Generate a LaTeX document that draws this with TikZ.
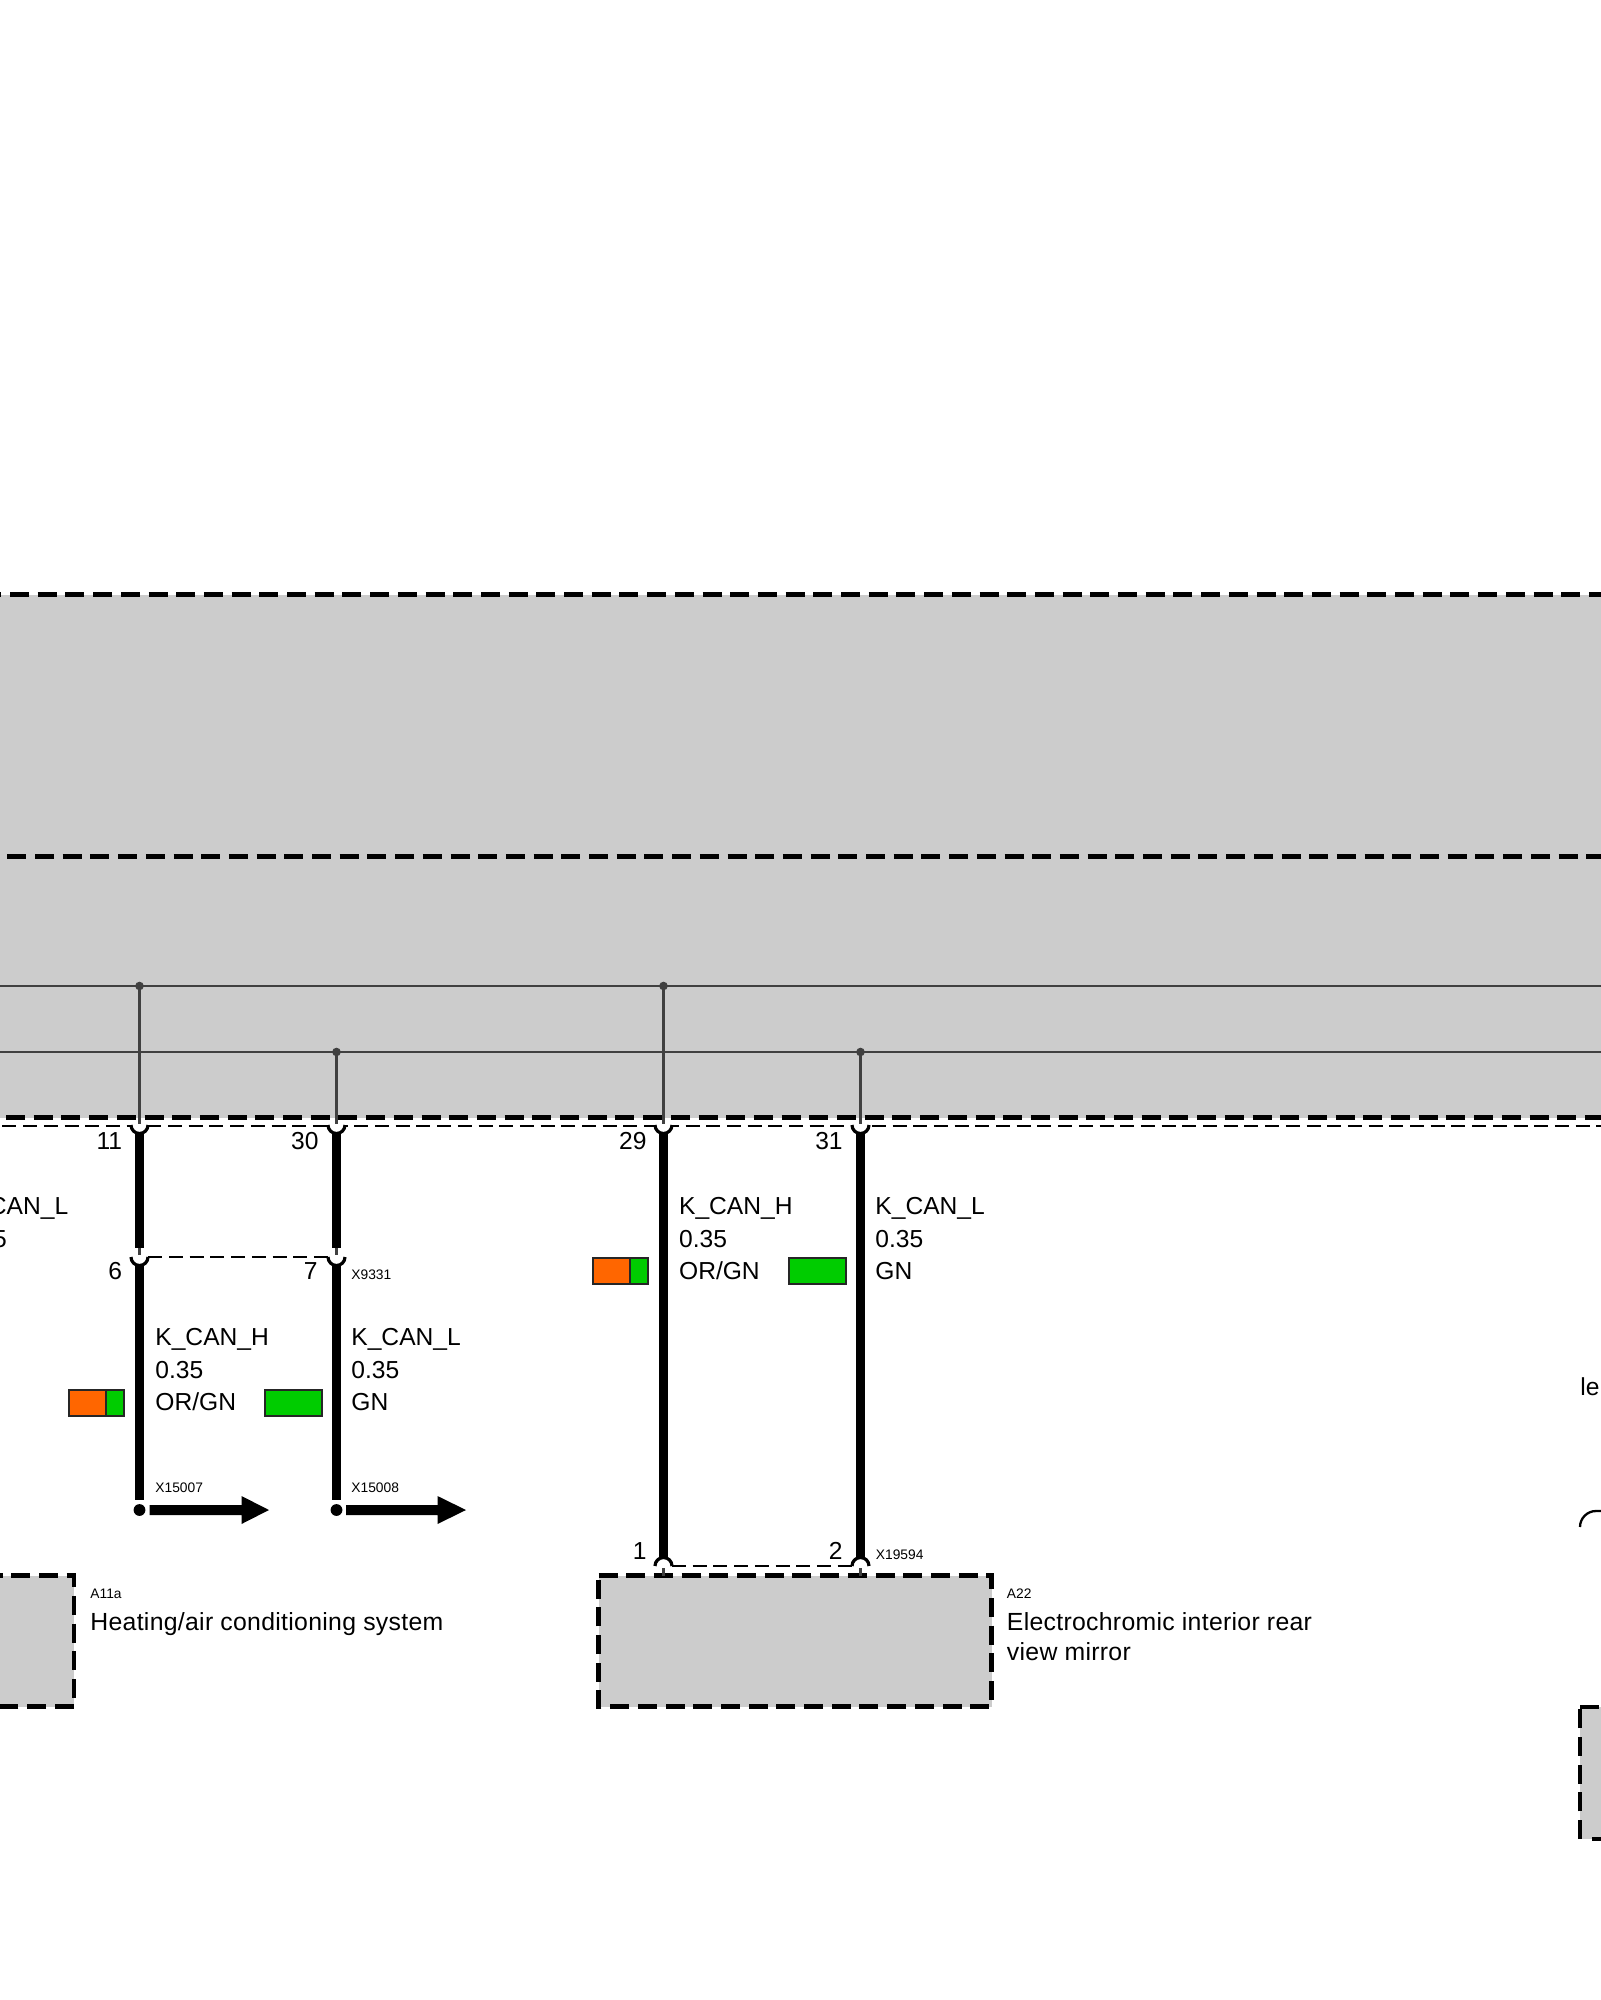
\documentclass[tikz,border=0pt]{standalone}
\usepackage{fontspec}
\setmainfont{Liberation Sans}
\newfontfamily\descfont[LetterSpace=1.2]{Liberation Sans}
\definecolor{boxgray}{HTML}{CCCCCC}
\definecolor{wireor}{HTML}{FF6600}
\definecolor{wiregn}{HTML}{00CC00}
\definecolor{thinw}{HTML}{404040}
\tikzset{
  x=0.5pt,y=-0.5pt,
  modfill/.style={fill=boxgray,draw=none},
  module/.style={draw=black,line width=2.3pt,dash pattern=on 9.5pt off 4.35pt},
  fine/.style={draw=black,line width=0.9pt,dash pattern=on 7pt off 3.35pt},
  thick wire/.style={line width=4.5pt,black},
  thin wire/.style={line width=1.1pt,thinw},
  bus/.style={line width=1.1pt,thinw},
  pin/.style={line width=1.6pt,black},
  txt/.style={inner sep=0pt,anchor=base west,font=\fontsize{12.3}{12.3}\selectfont},
  desc/.style={inner sep=0pt,anchor=base west,font=\descfont\fontsize{12.4}{12.4}\selectfont},
  num/.style={inner sep=0pt,anchor=base east,font=\fontsize{12.3}{12.3}\selectfont},
  tiny/.style={inner sep=0pt,anchor=base west,font=\fontsize{6.9}{6.9}\selectfont},
  swatch/.style={draw=black!85,line width=1pt},
}
\newcommand{\wirelabel}[5]{%
  \node[txt] (#1a) at (#2,#3) {K\_CAN\_#4};
  \node[txt] (#1b) at (#2,#3+32.3) {0.35};
  \node[txt] (#1c) at (#2,#3+64.5) {#5};}
\begin{document}
\begin{tikzpicture}
\useasboundingbox (0,0) rectangle (1600,2000);
% modules
\path[modfill] (-60,594.5) rectangle (1640,856.5);
\path[modfill] (-60,856.5) rectangle (1640,1117.5);
\draw[module] (-45.4,594.5) -- (1640,594.5);
\draw[module] (-48.1,856.5) -- (1640,856.5);
\draw[module] (-49.4,1117.5) -- (1640,1117.5);
\path[modfill] (-60,1575.5) rectangle (74,1706.5);
\draw[module] (-44.1,1575.5) -- (74,1575.5) -- (74,1706.5) -- (-60,1706.5);
\path[modfill] (598.5,1575.5) rectangle (991.5,1706.5);
\draw[module] (598.5,1575.5) -- (991.5,1575.5) -- (991.5,1706.5) -- (598.5,1706.5) -- cycle;
\path[modfill] (1580,1707) rectangle (1640,1839);
\draw[module] (1580,1707) -- (1640,1707);
\draw[module] (1580,1839) -- (1580,1707);
\draw[module] (1592,1839) -- (1640,1839);
% internal buses
\coordinate (busHl) at (-10,986);
\coordinate (busHr) at (1610,986);
\coordinate (busLl) at (-10,1052);
\coordinate (busLr) at (1610,1052);
\draw[bus] (busHl) -- (busHr);
\draw[bus] (busLl) -- (busLr);
% connector lines
\draw[fine] (-18.3,1126) -- (1610,1126);
\draw[fine] (148.3,1257) -- (329,1257);
\draw[fine] (672,1566) -- (852,1566);
% wires, upper connector
\foreach \n/\x/\y in {a/139.5/986,b/336.5/1052,c/663.5/986,d/860.5/1052}{
  \coordinate (t\n) at (\x,\y);
  \coordinate (p\n) at (\x,1123.5);
  \fill[white] (\x-8,1125) arc[start angle=180,end angle=360,radius=4pt] -- cycle;
  \draw[pin] (\x-8.5,1125) arc[start angle=180,end angle=360,radius=4.25pt];
  \draw[thin wire] (t\n) -- (p\n);
  \fill[thinw] (t\n) circle (2.15pt);
}
\foreach \n/\x in {a/139.5,b/336.5}{
  \coordinate (q\n) at (\x,1248);
  \coordinate (r\n) at (\x,1254.5);
  \coordinate (s\n) at (\x,1500);
  \coordinate (dot\n) at (\x,1510);
  \draw[thick wire] (\x,1132) -- (q\n);
  \fill[white] (\x-8,1257) arc[start angle=180,end angle=360,radius=4pt] -- cycle;
  \draw[pin] (\x-8.5,1257) arc[start angle=180,end angle=360,radius=4.25pt];
  \draw[thin wire] (q\n) -- (r\n);
  \draw[thick wire] (\x,1264) -- (s\n);
  \fill[black] (dot\n) circle (2.95pt);
}
\foreach \n/\x in {c/663.5,d/860.5}{
  \coordinate (e\n) at (\x,1559);
  \coordinate (f\n) at (\x,1568);
  \coordinate (g\n) at (\x,1576);
  \draw[thick wire] (\x,1132) -- (e\n);
  \fill[white] (\x-8,1566) arc[start angle=180,end angle=0,radius=4pt] -- cycle;
  \draw[pin] (\x-8.5,1566) arc[start angle=180,end angle=0,radius=4.25pt];
  \draw[thin wire] (f\n) -- (g\n);
}
% arrows
\foreach \n/\x/\a/\b/\c in {a/139.5/149.5/241.5/269,b/336.5/346/437.5/466}{
  \fill[black] (\a,1505) -- (\b,1505) -- (\b,1496) -- (\c,1510) -- (\b,1524) -- (\b,1515) -- (\a,1515) -- cycle;
}
% swatches
\foreach \x/\y in {69.3/1390.3,593.3/1258.3}{
  \filldraw[swatch,fill=wireor] (\x,\y) rectangle ++(37,26);
  \filldraw[swatch,fill=wiregn] (\x+37,\y) rectangle ++(18,26);
}
\foreach \x/\y in {265.3/1390.3,789.3/1258.3}{
  \filldraw[swatch,fill=wiregn] (\x,\y) rectangle ++(56.5,26);
}
% labels
\node[txt] (w0a) at (-41.5,1214.8) {K\_CAN\_L};
\node[txt] (w0b) at (-41.5,1247.1) {0.35};
\wirelabel{w1}{155}{1345.7}{H}{OR/GN}
\wirelabel{w2}{351}{1345.7}{L}{GN}
\wirelabel{w3}{678.7}{1214.8}{H}{OR/GN}
\wirelabel{w4}{875}{1214.8}{L}{GN}
\node[num] (n11) at (122.5,1149.3) {11};
\node[num] (n30) at (319,1149.3) {30};
\node[num] (n6) at (122.5,1279) {6};
\node[num] (n7) at (318,1279) {7};
\node[num] (n29) at (647,1149.3) {29};
\node[num] (n31) at (843,1149.3) {31};
\node[num] (n1) at (647,1559) {1};
\node[num] (n2) at (843,1559) {2};
\node[tiny] (x9331) at (351,1279) {X9331};
\node[tiny] (x15007) at (155,1492) {X15007};
\node[tiny] (x15008) at (351,1492) {X15008};
\node[tiny] (x19594) at (875.5,1559) {X19594};
\node[tiny] (a11a) at (90,1598) {A11a};
\node[desc] (heat) at (90,1630) {Heating/air conditioning system};
\node[tiny] (a22) at (1006.5,1598) {A22};
\node[desc] (mir1) at (1006.5,1630) {Electrochromic interior rear};
\node[desc] (mir2) at (1006.5,1660.5) {view mirror};
\node[txt] (le) at (1580,1395) {le};
\draw[line width=1.15pt] (1580,1527) arc[start angle=180,end angle=90,radius=8pt] -- (1610,1511);
\end{tikzpicture}
\end{document}
